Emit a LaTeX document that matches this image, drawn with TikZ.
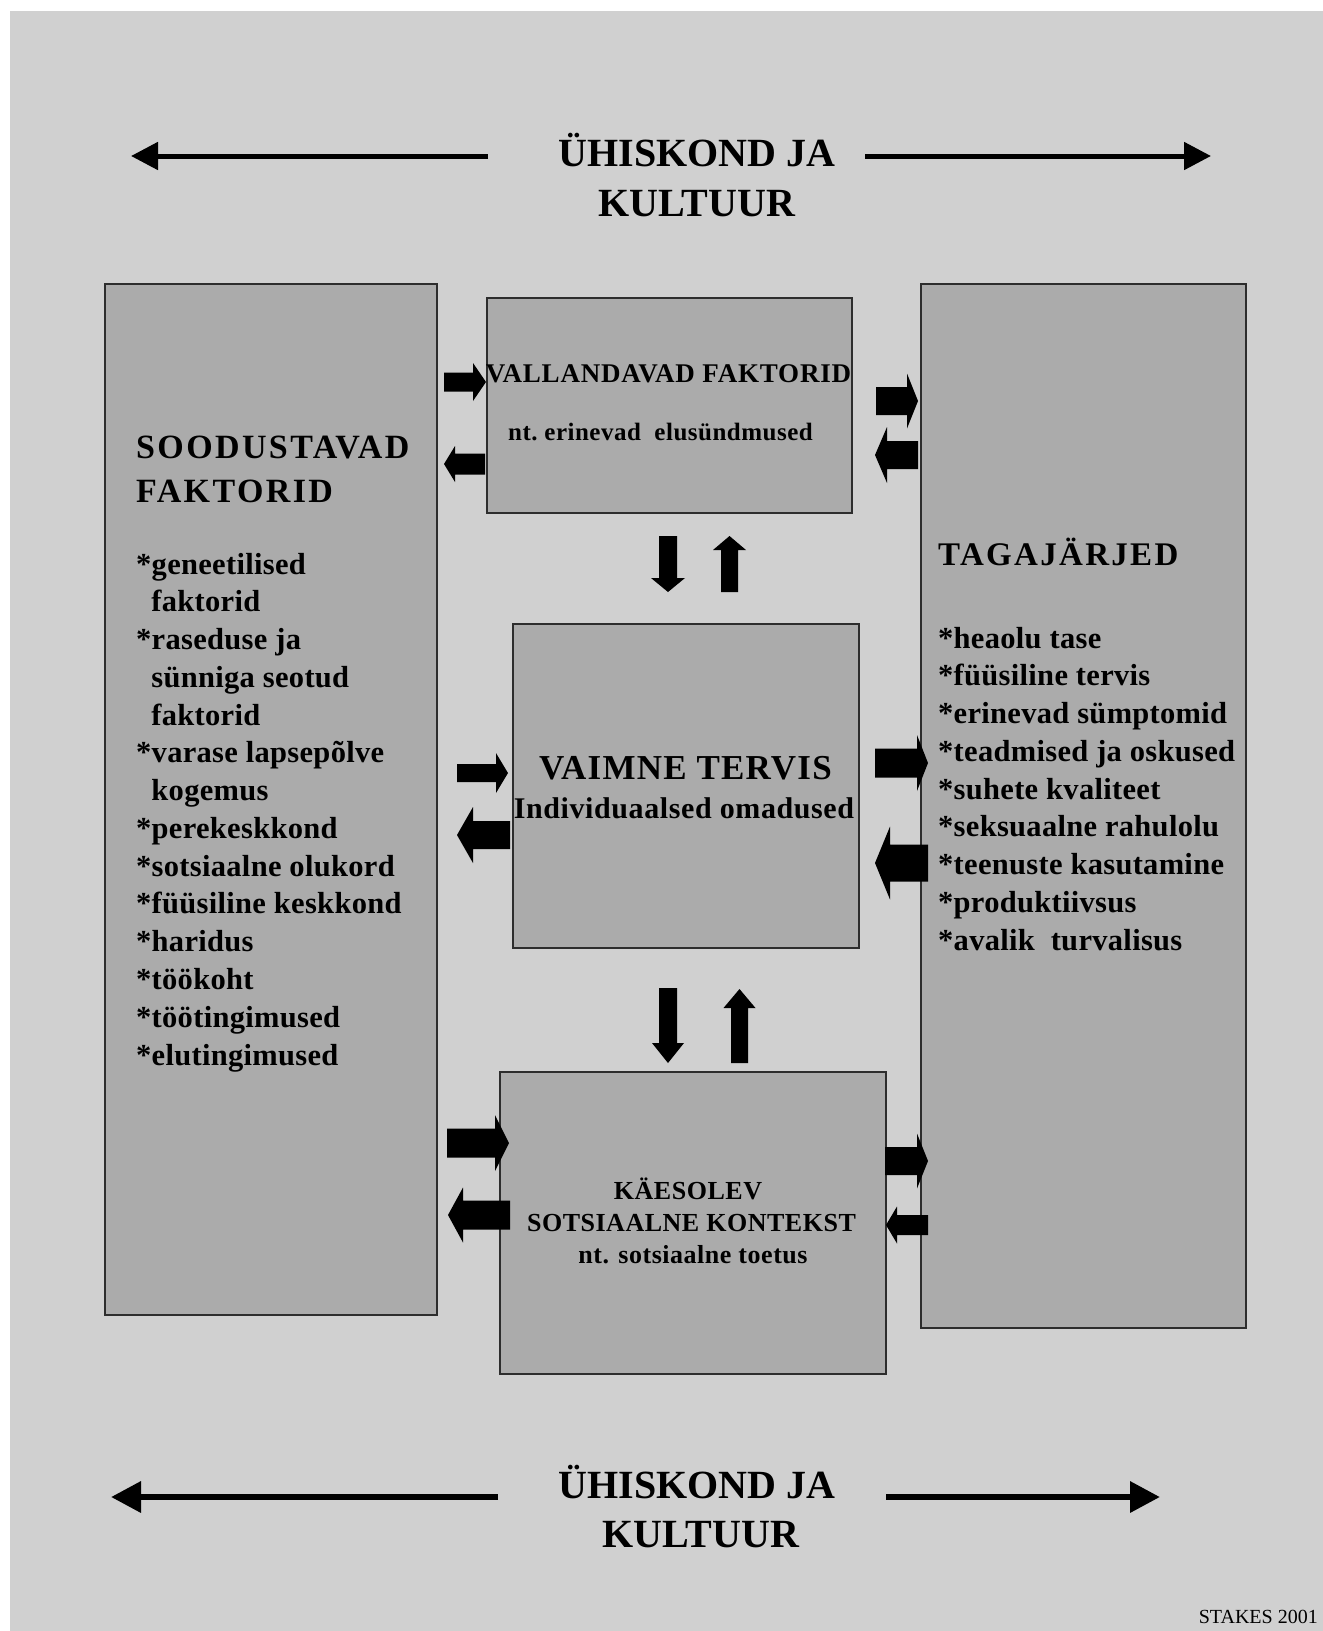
\documentclass[tikz,border=0pt]{standalone}
\usepackage{fontspec}
\setmainfont{Liberation Serif}
\usetikzlibrary{arrows.meta}
\definecolor{bggray}{RGB}{208,208,208}
\definecolor{boxgray}{RGB}{171,171,171}
\definecolor{edgegray}{RGB}{45,45,45}
% horizontal block arrow: tail x, head-base x, tip x, y, shaft half, head half
\newcommand\hblk[6]{\fill[black] (#1,{#4-#5}) -- (#2,{#4-#5}) -- (#2,{#4-#6}) -- (#3,#4) -- (#2,{#4+#6}) -- (#2,{#4+#5}) -- (#1,{#4+#5}) -- cycle;}
% vertical block arrow: tail y, head-base y, tip y, x, shaft half, head half
\newcommand\vblk[6]{\fill[black] ({#4-#5},#1) -- ({#4-#5},#2) -- ({#4-#6},#2) -- (#4,#3) -- ({#4+#6},#2) -- ({#4+#5},#2) -- ({#4+#5},#1) -- cycle;}
\newcommand\lsp[1]{\addfontfeatures{LetterSpace=#1}}
\begin{document}
\begin{tikzpicture}[x=1pt,y=-1pt,
  box/.style={draw=edgegray, line width=1.6pt, fill=boxgray, anchor=north west, inner sep=0pt},
  txt/.style={inner sep=0pt, font=\bfseries},
  thinarrow/.style={line width=5pt, -{Triangle[length=27pt,width=27pt]}}]
\useasboundingbox (0,0) rectangle (1323,1631);
\fill[white] (0,0) rectangle (1323,1631);
\fill[bggray] (10,11) rectangle (1323,1631);

% boxes
\node[box, minimum width=332pt, minimum height=1031pt] (sood) at (104,283) {};
\node[box, minimum width=365pt, minimum height=215pt] (vall) at (486,297) {};
\node[box, minimum width=325pt, minimum height=1044pt] (taga) at (920,283) {};
\node[box, minimum width=346pt, minimum height=324pt] (vaim) at (512,623) {};
\node[box, minimum width=386pt, minimum height=302pt] (kaes) at (499,1071) {};

% top and bottom labels
\node[txt, anchor=base, font=\bfseries\fontsize{40}{50}\selectfont] (t1) at (697,166) {ÜHISKOND JA};
\node[txt, anchor=base, font=\bfseries\fontsize{40}{50}\selectfont] (t2) at (697,216) {KULTUUR};
\node[txt, anchor=base, font=\bfseries\fontsize{40}{50}\selectfont] (b1) at (697,1498) {ÜHISKOND JA};
\node[txt, anchor=base, font=\bfseries\fontsize{40}{50}\selectfont] (b2) at (701,1547) {KULTUUR};
\coordinate (tls) at (488,156); \coordinate (tle) at (131,156);
\coordinate (trs) at (865,156); \coordinate (tre) at (1211,156);
\coordinate (bls) at (498,1497); \coordinate (ble) at (111,1497);
\coordinate (brs) at (886,1497); \coordinate (bre) at (1160,1497);
\draw[thinarrow] (tls) -- (tle);
\draw[thinarrow] (trs) -- (tre);
\draw[thinarrow, line width=6.5pt, -{Triangle[length=30pt,width=30pt]}] (bls) -- (ble);
\draw[thinarrow, line width=6.5pt, -{Triangle[length=30pt,width=30pt]}] (brs) -- (bre);

% left box text
\node[txt, anchor=base west, font=\bfseries\fontsize{34}{44}\selectfont\lsp{7}] (sh1) at (136,458) {SOODUSTAVAD};
\node[txt, anchor=base west, font=\bfseries\fontsize{34}{44}\selectfont\lsp{7}] (sh2) at (136,502) {FAKTORID};
\foreach \t [count=\i from 0] in {*geneetilised, \phantom{*}faktorid, *raseduse ja, \phantom{*}sünniga seotud, \phantom{*}faktorid, *varase lapsepõlve, \phantom{*}kogemus, *perekeskkond, *sotsiaalne olukord, *füüsiline keskkond, *haridus, *töökoht, *töötingimused, *elutingimused}
  \node[txt, anchor=base west, font=\bfseries\fontsize{30.5}{37}\selectfont\lsp{1}] (sl\i) at (136,{574+37.77*\i}) {\t};

% right box text
\node[txt, anchor=base west, font=\bfseries\fontsize{33}{44}\selectfont\lsp{7}] (th) at (938,565) {TAGAJÄRJED};
\foreach \t [count=\i from 0] in {*heaolu tase, *füüsiline tervis, *erinevad sümptomid, *teadmised ja oskused, *suhete kvaliteet, *seksuaalne rahulolu, *teenuste kasutamine, *produktiivsus, *avalik\ \ turvalisus}
  \node[txt, anchor=base west, font=\bfseries\fontsize{30.5}{37}\selectfont\lsp{1}] (tl\i) at (938,{648+37.75*\i}) {\t};

% middle texts
\node[txt, anchor=base, font=\bfseries\fontsize{27}{32}\selectfont\lsp{3}] (v1) at (668.5,382) {VALLANDAVAD FAKTORID};
\node[txt, anchor=base, font=\bfseries\fontsize{25}{32}\selectfont\lsp{2}] (v2) at (660.5,440) {nt.\ erinevad\ \ elusündmused};
\node[txt, anchor=base, font=\bfseries\fontsize{35}{40}\selectfont\lsp{3.5}] (m1) at (685.5,779) {VAIMNE TERVIS};
\node[txt, anchor=base, font=\bfseries\fontsize{30}{36}\selectfont\lsp{2}] (m2) at (684,818) {Individuaalsed omadused};
\node[txt, anchor=base, font=\bfseries\fontsize{26}{32}\selectfont\lsp{2}] (k1) at (688,1199) {KÄESOLEV};
\node[txt, anchor=base, font=\bfseries\fontsize{26}{32}\selectfont\lsp{2}] (k2) at (691.5,1231) {SOTSIAALNE KONTEKST};
\node[txt, anchor=base, font=\bfseries\fontsize{26}{32}\selectfont\lsp{2}] (k3) at (693,1263) {nt. sotsiaalne toetus};

% credit
\node[inner sep=0pt, anchor=base east, font=\fontsize{20}{24}\selectfont] (cr) at (1318,1623) {STAKES 2001};

% block arrows
\hblk{444}{473}{486}{382}{9.5}{19}
\hblk{485}{455}{444}{464}{10.5}{18}
\hblk{876}{907}{918}{401}{14}{27.5}
\hblk{918}{887}{875}{455}{14}{28}
\hblk{457}{496}{508}{773}{9}{20}
\hblk{510}{473}{457}{835}{14}{28}
\hblk{875}{917}{928}{763}{14.5}{28}
\hblk{928}{890}{875}{863}{18.5}{36.5}
\hblk{447}{495}{509}{1143}{14.5}{28}
\hblk{510}{463}{448}{1215}{14.5}{27.5}
\hblk{885}{917}{928}{1161}{14}{27.5}
\hblk{928}{897}{886}{1225}{10}{18.5}
\vblk{536}{578}{592}{668}{9}{17}
\vblk{592}{550}{536}{729.5}{8.5}{16.5}
\vblk{988}{1043}{1063}{668}{9}{16}
\vblk{1063}{1008}{989}{739.5}{8.5}{16}
\end{tikzpicture}
\end{document}
